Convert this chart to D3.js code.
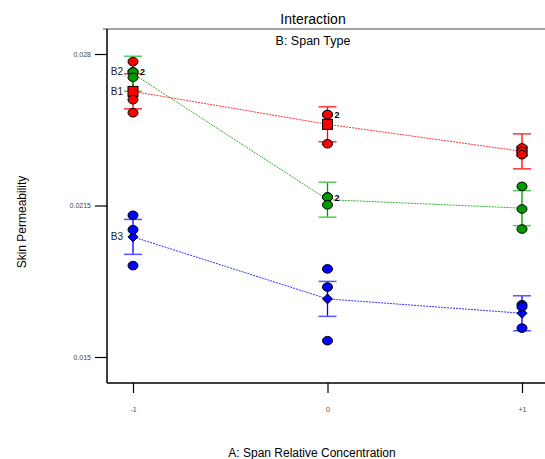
<!DOCTYPE html>
<html>
<head>
<meta charset="utf-8">
<script src="https://cdn.jsdelivr.net/npm/d3@7"></script>
<style>
  body { margin: 0; background: #fff; }
  svg { font-family: "Liberation Sans", Arial, sans-serif; }
</style>
</head>
<body>
<div id="chart"></div>
<script>
// datos
const levels = [-1, 0, 1];
const levelLabels = ["-1", "0", "+1"];
const yTicks = [0.015, 0.0215, 0.028];
const yTickLabels = ["0.015", "0.0215", "0.028"];
const groups = ["B1", "B2", "B3"];
const colors = ["#ff0000", "#009900", "#0000ff"];
const capColors = ["#ff3333", "#55cc55", "#5555ff"];
const lsdHalf = 0.00075;

// observaciones por grupo y nivel
const b1Points = [[0.02767, 0.02604, 0.02548], [0.0254, 0.0254, 0.02415], [0.02397, 0.02382, 0.02368]];
const b2Points = [[0.02723, 0.02723, 0.0270], [0.02186, 0.02186, 0.02153], [0.02232, 0.02135, 0.02049]];
const b3Points = [[0.02108, 0.02046, 0.01892], [0.01878, 0.0180, 0.0157], [0.01724, 0.01715, 0.01624]];
const allPoints = [b1Points, b2Points, b3Points];

const svg = d3.select("#chart").append("svg")
    .attr("width", 545).attr("height", 459);

const x = d3.scaleLinear().domain([-1, 1]).range([133, 522]);
const y = d3.scaleLinear().domain([0.015, 0.028]).range([357, 54]);

// marco
svg.append("line").attr("x1", 103).attr("x2", 545).attr("y1", 29).attr("y2", 29)
    .attr("stroke", "#444").attr("stroke-width", 1);

const yAxis = svg.append("g").attr("transform", "translate(107,0)")
    .call(d3.axisLeft(y).tickValues(yTicks).tickFormat((d, i) => yTickLabels[i]).tickSize(12).tickPadding(4));
yAxis.select(".domain").attr("d", "M0,29V383");
const xAxis = svg.append("g").attr("transform", "translate(0,383)")
    .call(d3.axisBottom(x).tickValues(levels).tickFormat((d, i) => levelLabels[i]).tickSize(10).tickPadding(14));
xAxis.select(".domain").attr("d", "M107,0H545");
svg.selectAll(".domain").attr("stroke", "#000").attr("stroke-width", 1.5);
svg.selectAll(".tick line").attr("stroke", "#000").attr("stroke-width", 1.2);
svg.selectAll(".tick text").attr("fill", "#444").style("font-size", "7px")
    .style("font-family", "'Liberation Sans', Arial, sans-serif");

// titulos
svg.append("text").attr("x", 313).attr("y", 24).attr("text-anchor", "middle")
    .style("font-size", "14px").text("Interaction");
svg.append("text").attr("x", 313).attr("y", 45).attr("text-anchor", "middle")
    .style("font-size", "12.5px").text("B: Span Type");
svg.append("text").attr("transform", "translate(26,222) rotate(-90)").attr("text-anchor", "middle")
    .style("font-size", "12px").text("Skin Permeability");
svg.append("text").attr("x", 312).attr("y", 457).attr("text-anchor", "middle")
    .style("font-size", "12px").text("A: Span Relative Concentration");

const means = allPoints.map(g => g.map(p => d3.mean(p)));

// lineas de medias
means.forEach((m, gi) => {
    svg.append("path")
        .attr("d", d3.line().x((_, i) => x(levels[i])).y(v => y(v))(m))
        .attr("fill", "none")
        .attr("stroke", colors[gi])
        .attr("stroke-width", 1)
        .attr("stroke-dasharray", "2,1")
        .attr("opacity", 0.8);
});

// barras LSD
means.forEach((m, gi) => {
    m.forEach((v, i) => {
        const cx = x(levels[i]);
        svg.append("line").attr("x1", cx).attr("x2", cx)
            .attr("y1", y(v + lsdHalf)).attr("y2", y(v - lsdHalf))
            .attr("stroke", colors[gi]).attr("stroke-width", 1.3);
        [v + lsdHalf, v - lsdHalf].forEach(e => {
            svg.append("line").attr("x1", cx - 9).attr("x2", cx + 9)
                .attr("y1", y(e)).attr("y2", y(e))
                .attr("stroke", capColors[gi]).attr("stroke-width", 1.5);
        });
    });
});

// puntos y marcadores de media (orden: B2 abajo)
[1, 0, 2].forEach(gi => {
    const m = means[gi];
    m.forEach((v, i) => {
        const cx = x(levels[i]);
        const g = svg.append("g");
        if (gi == 0) {
            g.append("rect").attr("x", cx - 5).attr("y", y(v) - 5).attr("width", 10).attr("height", 10)
                .attr("fill", colors[gi]).attr("stroke", "#000").attr("stroke-width", 1);
        } else if (gi == 2) {
            g.append("path").attr("d", `M${cx},${y(v) - 5}L${cx + 5},${y(v)}L${cx},${y(v) + 5}L${cx - 5},${y(v)}Z`)
                .attr("fill", colors[gi]).attr("stroke", "#000").attr("stroke-width", 1);
        }
        allPoints[gi][i].forEach(p => {
            svg.append("ellipse").attr("cx", cx).attr("cy", y(p)).attr("rx", 5).attr("ry", 4.3)
                .attr("fill", colors[gi]).attr("stroke", "#000").attr("stroke-width", 1);
        });
        // etiqueta "2" para puntos repetidos
        const counts = d3.rollup(allPoints[gi][i], a => a.length, d => d);
        counts.forEach((c, val) => {
            if (c > 1) {
                svg.append("text").attr("x", cx + 7).attr("y", y(val) + 3.5)
                    .style("font-size", "9px").style("font-weight", "bold").text(c);
            }
        });
    });
});

// etiquetas de grupo
groups.forEach((name, gi) => {
    let v = means[gi][0];
    if (gi == 1) v = allPoints[1][0][0];
    svg.append("text").attr("x", 123).attr("y", y(v) + 3.5).attr("text-anchor", "end")
        .style("font-size", "10px").attr("fill", "#222").text(name);
});
</script>
</body>
</html>
